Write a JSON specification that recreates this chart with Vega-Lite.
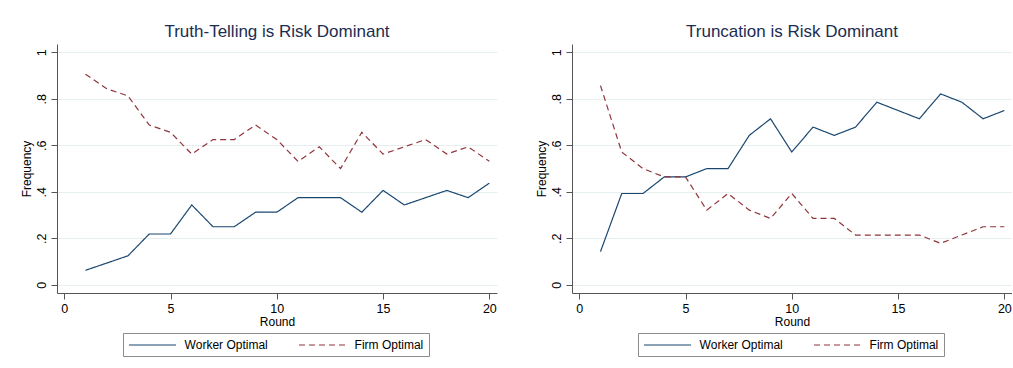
{
  "$schema": "https://vega.github.io/schema/vega-lite/v6.json",
  "background": "white",
  "padding": {"left": 20, "top": 23, "right": 0, "bottom": 0},
  "datasets": {
    "d": [
      {"panel": "A", "round": 1, "series": "Worker Optimal", "value": 0.0625},
      {"panel": "A", "round": 2, "series": "Worker Optimal", "value": 0.09375},
      {"panel": "A", "round": 3, "series": "Worker Optimal", "value": 0.125},
      {"panel": "A", "round": 4, "series": "Worker Optimal", "value": 0.21875},
      {"panel": "A", "round": 5, "series": "Worker Optimal", "value": 0.21875},
      {"panel": "A", "round": 6, "series": "Worker Optimal", "value": 0.34375},
      {"panel": "A", "round": 7, "series": "Worker Optimal", "value": 0.25},
      {"panel": "A", "round": 8, "series": "Worker Optimal", "value": 0.25},
      {"panel": "A", "round": 9, "series": "Worker Optimal", "value": 0.3125},
      {"panel": "A", "round": 10, "series": "Worker Optimal", "value": 0.3125},
      {"panel": "A", "round": 11, "series": "Worker Optimal", "value": 0.375},
      {"panel": "A", "round": 12, "series": "Worker Optimal", "value": 0.375},
      {"panel": "A", "round": 13, "series": "Worker Optimal", "value": 0.375},
      {"panel": "A", "round": 14, "series": "Worker Optimal", "value": 0.3125},
      {"panel": "A", "round": 15, "series": "Worker Optimal", "value": 0.40625},
      {"panel": "A", "round": 16, "series": "Worker Optimal", "value": 0.34375},
      {"panel": "A", "round": 17, "series": "Worker Optimal", "value": 0.375},
      {"panel": "A", "round": 18, "series": "Worker Optimal", "value": 0.40625},
      {"panel": "A", "round": 19, "series": "Worker Optimal", "value": 0.375},
      {"panel": "A", "round": 20, "series": "Worker Optimal", "value": 0.4375},
      {"panel": "A", "round": 1, "series": "Firm Optimal", "value": 0.90625},
      {"panel": "A", "round": 2, "series": "Firm Optimal", "value": 0.84375},
      {"panel": "A", "round": 3, "series": "Firm Optimal", "value": 0.8125},
      {"panel": "A", "round": 4, "series": "Firm Optimal", "value": 0.6875},
      {"panel": "A", "round": 5, "series": "Firm Optimal", "value": 0.65625},
      {"panel": "A", "round": 6, "series": "Firm Optimal", "value": 0.5625},
      {"panel": "A", "round": 7, "series": "Firm Optimal", "value": 0.625},
      {"panel": "A", "round": 8, "series": "Firm Optimal", "value": 0.625},
      {"panel": "A", "round": 9, "series": "Firm Optimal", "value": 0.6875},
      {"panel": "A", "round": 10, "series": "Firm Optimal", "value": 0.625},
      {"panel": "A", "round": 11, "series": "Firm Optimal", "value": 0.53125},
      {"panel": "A", "round": 12, "series": "Firm Optimal", "value": 0.59375},
      {"panel": "A", "round": 13, "series": "Firm Optimal", "value": 0.5},
      {"panel": "A", "round": 14, "series": "Firm Optimal", "value": 0.65625},
      {"panel": "A", "round": 15, "series": "Firm Optimal", "value": 0.5625},
      {"panel": "A", "round": 16, "series": "Firm Optimal", "value": 0.59375},
      {"panel": "A", "round": 17, "series": "Firm Optimal", "value": 0.625},
      {"panel": "A", "round": 18, "series": "Firm Optimal", "value": 0.5625},
      {"panel": "A", "round": 19, "series": "Firm Optimal", "value": 0.59375},
      {"panel": "A", "round": 20, "series": "Firm Optimal", "value": 0.53125},
      {"panel": "B", "round": 1, "series": "Worker Optimal", "value": 0.1429},
      {"panel": "B", "round": 2, "series": "Worker Optimal", "value": 0.3929},
      {"panel": "B", "round": 3, "series": "Worker Optimal", "value": 0.3929},
      {"panel": "B", "round": 4, "series": "Worker Optimal", "value": 0.4643},
      {"panel": "B", "round": 5, "series": "Worker Optimal", "value": 0.4643},
      {"panel": "B", "round": 6, "series": "Worker Optimal", "value": 0.5},
      {"panel": "B", "round": 7, "series": "Worker Optimal", "value": 0.5},
      {"panel": "B", "round": 8, "series": "Worker Optimal", "value": 0.6429},
      {"panel": "B", "round": 9, "series": "Worker Optimal", "value": 0.7143},
      {"panel": "B", "round": 10, "series": "Worker Optimal", "value": 0.5714},
      {"panel": "B", "round": 11, "series": "Worker Optimal", "value": 0.6786},
      {"panel": "B", "round": 12, "series": "Worker Optimal", "value": 0.6429},
      {"panel": "B", "round": 13, "series": "Worker Optimal", "value": 0.6786},
      {"panel": "B", "round": 14, "series": "Worker Optimal", "value": 0.7857},
      {"panel": "B", "round": 15, "series": "Worker Optimal", "value": 0.75},
      {"panel": "B", "round": 16, "series": "Worker Optimal", "value": 0.7143},
      {"panel": "B", "round": 17, "series": "Worker Optimal", "value": 0.8214},
      {"panel": "B", "round": 18, "series": "Worker Optimal", "value": 0.7857},
      {"panel": "B", "round": 19, "series": "Worker Optimal", "value": 0.7143},
      {"panel": "B", "round": 20, "series": "Worker Optimal", "value": 0.75},
      {"panel": "B", "round": 1, "series": "Firm Optimal", "value": 0.8571},
      {"panel": "B", "round": 2, "series": "Firm Optimal", "value": 0.5714},
      {"panel": "B", "round": 3, "series": "Firm Optimal", "value": 0.5},
      {"panel": "B", "round": 4, "series": "Firm Optimal", "value": 0.4643},
      {"panel": "B", "round": 5, "series": "Firm Optimal", "value": 0.4643},
      {"panel": "B", "round": 6, "series": "Firm Optimal", "value": 0.3214},
      {"panel": "B", "round": 7, "series": "Firm Optimal", "value": 0.3929},
      {"panel": "B", "round": 8, "series": "Firm Optimal", "value": 0.3214},
      {"panel": "B", "round": 9, "series": "Firm Optimal", "value": 0.2857},
      {"panel": "B", "round": 10, "series": "Firm Optimal", "value": 0.3929},
      {"panel": "B", "round": 11, "series": "Firm Optimal", "value": 0.2857},
      {"panel": "B", "round": 12, "series": "Firm Optimal", "value": 0.2857},
      {"panel": "B", "round": 13, "series": "Firm Optimal", "value": 0.2143},
      {"panel": "B", "round": 14, "series": "Firm Optimal", "value": 0.2143},
      {"panel": "B", "round": 15, "series": "Firm Optimal", "value": 0.2143},
      {"panel": "B", "round": 16, "series": "Firm Optimal", "value": 0.2143},
      {"panel": "B", "round": 17, "series": "Firm Optimal", "value": 0.1786},
      {"panel": "B", "round": 18, "series": "Firm Optimal", "value": 0.2143},
      {"panel": "B", "round": 19, "series": "Firm Optimal", "value": 0.25},
      {"panel": "B", "round": 20, "series": "Firm Optimal", "value": 0.25}
    ]
  },
  "spacing": 38,
  "hconcat": [
    {
      "width": 440,
      "height": 249,
      "title": "Truth-Telling is Risk Dominant",
      "data": {"name": "d"},
      "transform": [{"filter": "datum.panel === 'A'"}],
      "mark": {"type": "line", "strokeWidth": 1.2},
      "encoding": {
        "x": {"field": "round", "type": "quantitative", "title": "Round",
              "scale": {"domain": [-0.34, 20.36], "nice": false, "zero": false},
              "axis": {"values": [0, 5, 10, 15, 20], "grid": false}},
        "y": {"field": "value", "type": "quantitative", "title": "Frequency",
              "scale": {"domain": [-0.035, 1.036], "nice": false, "zero": false},
              "axis": {"values": [0, 0.2, 0.4, 0.6, 0.8, 1], "labelAngle": -90, "grid": true,
                       "labelExpr": "replace(format(datum.value, '~g'), '0.', '.')"}},
        "color": {"field": "series", "type": "nominal",
                  "scale": {"domain": ["Worker Optimal", "Firm Optimal"], "range": ["#1a476f", "#90353b"]},
                  "legend": {"orient": "none", "legendX": 66, "legendY": 289, "direction": "horizontal", "title": null}},
        "strokeDash": {"field": "series", "type": "nominal",
                  "scale": {"domain": ["Worker Optimal", "Firm Optimal"], "range": [[1, 0], [6, 4]]},
                  "legend": {"orient": "none", "legendX": 66, "legendY": 289, "direction": "horizontal", "title": null}}
      }
    },
    {
      "width": 440,
      "height": 249,
      "title": "Truncation is Risk Dominant",
      "data": {"name": "d"},
      "transform": [{"filter": "datum.panel === 'B'"}],
      "mark": {"type": "line", "strokeWidth": 1.2},
      "encoding": {
        "x": {"field": "round", "type": "quantitative", "title": "Round",
              "scale": {"domain": [-0.34, 20.36], "nice": false, "zero": false},
              "axis": {"values": [0, 5, 10, 15, 20], "grid": false}},
        "y": {"field": "value", "type": "quantitative", "title": "Frequency",
              "scale": {"domain": [-0.035, 1.036], "nice": false, "zero": false},
              "axis": {"values": [0, 0.2, 0.4, 0.6, 0.8, 1], "labelAngle": -90, "grid": true,
                       "labelExpr": "replace(format(datum.value, '~g'), '0.', '.')"}},
        "color": {"field": "series", "type": "nominal",
                  "scale": {"domain": ["Worker Optimal", "Firm Optimal"], "range": ["#1a476f", "#90353b"]},
                  "legend": {"orient": "none", "legendX": 66, "legendY": 289, "direction": "horizontal", "title": null}},
        "strokeDash": {"field": "series", "type": "nominal",
                  "scale": {"domain": ["Worker Optimal", "Firm Optimal"], "range": [[1, 0], [6, 4]]},
                  "legend": {"orient": "none", "legendX": 66, "legendY": 289, "direction": "horizontal", "title": null}}
      }
    }
  ],
  "resolve": {
    "scale": {"color": "independent", "strokeDash": "independent", "x": "independent", "y": "independent"},
    "legend": {"color": "independent", "strokeDash": "independent"}
  },
  "config": {
    "view": {"stroke": null},
    "title": {"font": "Liberation Sans", "fontSize": 17, "fontWeight": "normal", "color": "#1c2d52", "offset": 3, "anchor": "middle"},
    "axis": {
      "labelFont": "Liberation Sans", "titleFont": "Liberation Sans",
      "labelFontSize": 12.5, "titleFontSize": 12, "titleFontWeight": "normal",
      "labelColor": "#000", "titleColor": "#000",
      "domainColor": "#555", "tickColor": "#555", "tickSize": 6,
      "gridColor": "#e6eef0", "labelPadding": 3, "titlePadding": 2
    },
    "legend": {
      "labelFont": "Liberation Sans", "labelFontSize": 12, "labelColor": "#000",
      "strokeColor": "#8c8c8c", "padding": 5,
      "symbolType": "M-1,0H6.83", "symbolSize": 144, "symbolStrokeWidth": 1.2,
      "columnPadding": 28, "labelOffset": 42.6
    }
  }
}
